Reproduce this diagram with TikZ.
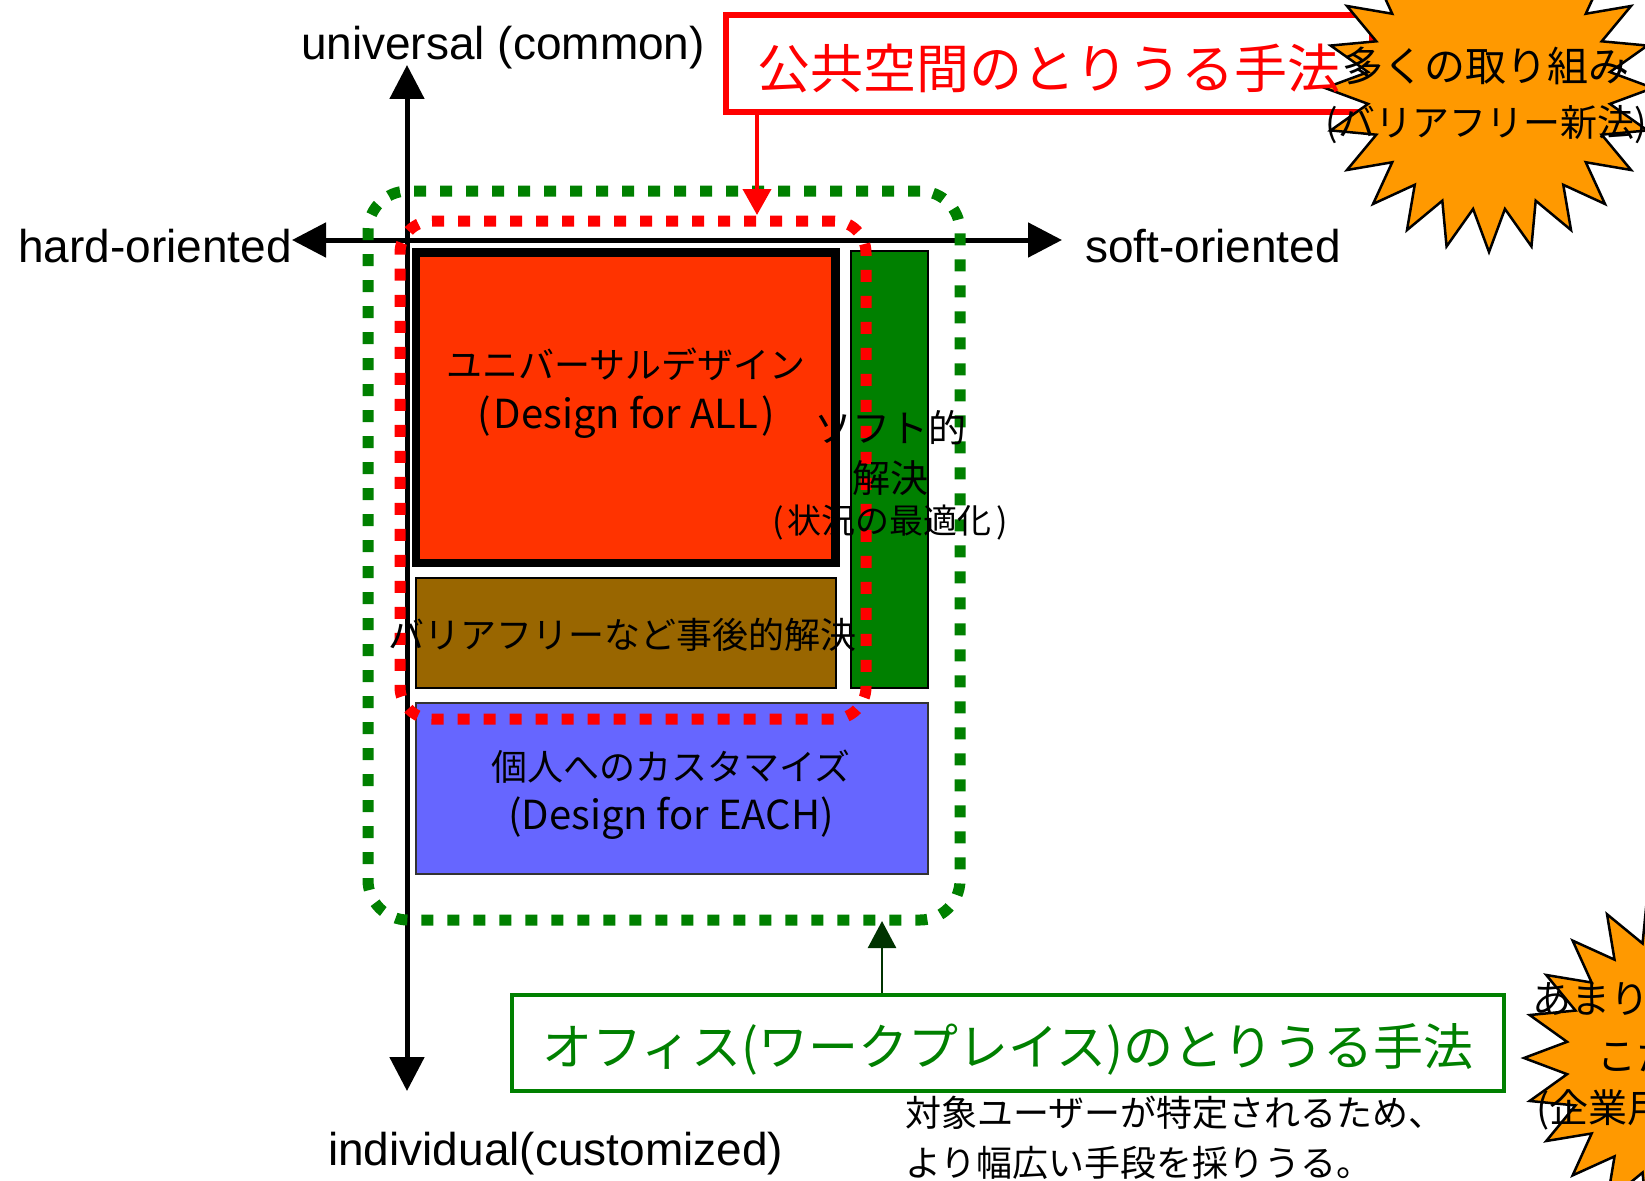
\documentclass[tikz,border=0pt]{standalone}
\usepackage{fontspec}
\setmainfont{Liberation Sans}
\newfontfamily\jp{Noto Sans CJK JP}
\usetikzlibrary{arrows.meta}
\definecolor{boxred}{HTML}{FF3300}
\definecolor{boxbrown}{HTML}{996600}
\definecolor{boxgreen}{HTML}{008000}
\definecolor{boxblue}{HTML}{6666FF}
\definecolor{starorange}{HTML}{FF9900}
\definecolor{arrowgreen}{HTML}{003300}
\definecolor{titlered}{HTML}{FF0000}
\begin{document}
\begin{tikzpicture}[x=1pt,y=-1pt,
  axisline/.style={line width=5pt, arrows={Triangle[length=34pt,width=34pt]-Triangle[length=34pt,width=34pt]}},
  axislabel/.style={font=\fontsize{46}{55}\selectfont, inner sep=0pt},
  jptext/.style={font=\jp\fontsize{36}{50}\selectfont, align=center, inner sep=0pt},
  dotgreen/.style={draw=boxgreen, line width=11pt, dash pattern=on 12pt off 14pt, rounded corners=40pt, inner sep=0pt},
  dotred/.style={draw=titlered, line width=11pt, dash pattern=on 12pt off 14pt, rounded corners=32pt, inner sep=0pt},
  titlebox/.style={draw=titlered, line width=6pt, inner sep=0pt},
  titletext/.style={font=\jp\fontsize{53}{60}\selectfont, text=titlered, inner sep=0pt},
  labelbox/.style={draw=boxgreen, line width=4pt, inner sep=0pt, font=\jp\fontsize{50}{60}\selectfont, text=boxgreen},
  starshape/.style={fill=starorange, draw=black, line width=2.5pt, line join=miter},
  startext/.style={font=\jp\fontsize{41}{55}\selectfont, align=center, inner sep=0pt},
  startext2/.style={font=\jp\fontsize{39}{50}\selectfont, inner sep=0pt, anchor=west},
  redarrow/.style={draw=titlered, line width=4pt, arrows={-Triangle[length=26pt,width=28pt]}},
  greenarrow/.style={draw=arrowgreen, line width=2.5pt, arrows={-Triangle[length=27pt,width=28pt]}}
]
\useasboundingbox (0,0) rectangle (1645,1180);
\fill[white] (0,0) rectangle (1645,1180);

% axes
\coordinate (ytop) at (407,65);
\coordinate (ybot) at (407,1091);
\coordinate (xleft) at (292,240);
\coordinate (xright) at (1062,240);
\draw[axisline] (ytop) -- (ybot);
\draw[axisline] (xleft) -- (xright);

\node[axislabel, anchor=base] (univ) at (503,60) {universal (common)};
\node[axislabel, anchor=base east] (hard) at (292,262) {hard-oriented};
\node[axislabel, anchor=base west] (soft) at (1085,262) {soft-oriented};
\node[axislabel, anchor=base west] (indiv) at (328,1165) {individual(customized)};

% boxes
\draw[fill=boxred, draw=black, line width=8.5pt] (416,252.5) rectangle (835.5,563);
\draw[fill=boxbrown, draw=black, line width=2.5pt] (416,578) rectangle (836,688);
\draw[fill=boxgreen, draw=black, line width=2.5pt] (851,251) rectangle (928,688);
\draw[fill=boxblue, draw=black!80, line width=2pt] (416,703) rectangle (928,874);

% dotted groupings
\node[dotgreen, minimum width=592pt, minimum height=729pt] (gdot) at (664,555.5) {};
\node[dotred, minimum width=466pt, minimum height=498pt] (rdot) at (633,470) {};

% texts in boxes
\node[jptext] (utext) at (626,393) {ユニバーサルデザイン\\{\fontsize{40}{50}\selectfont(\hspace{3pt}Design for ALL\hspace{3pt})}};
\node[jptext] (btext) at (622,635) {バリアフリーなど事後的解決};
\node[jptext, font=\jp\fontsize{38}{50}\selectfont] (stext) at (890,453) {ソフト的\\解決};
\node[jptext, font=\jp\fontsize{34}{40}\selectfont] (stext2) at (890,523) {(\hspace{4pt}状況の最適化\hspace{4pt})};
\node[jptext, font=\jp\fontsize{36}{49}\selectfont] (etext) at (671,795) {個人へのカスタマイズ\\{\fontsize{40}{49}\selectfont(Design for EACH)}};

% title box and arrow
\node[titlebox, minimum width=646pt, minimum height=97pt] (title) at (1049,63.5) {};
\coordinate (rtip) at (757,215);
\draw[redarrow] (title.south -| rtip) -- (rtip);

% top star
\filldraw[starshape] plot[variable=\k, samples at={0,1,...,47}]
  ({1489+(164-42*mod(\k,2))*cos(90+7.5*\k)}, {88-(164-42*mod(\k,2))*sin(90+7.5*\k)}) -- cycle;
\node[titletext] (titletxt) at (1049,68) {公共空間のとりうる手法};
\node[startext] (star1txt) at (1486,95) {多くの取り組み\\{\fontsize{37}{55}\selectfont(バリアフリー新法)}};

% office label and arrow
\node[labelbox, minimum width=992pt, minimum height=96pt] (office) at (1008,1043) {};
\node[labelbox, draw=none] (officetxt) at (1008,1049) {オフィス(ワークプレイス)のとりうる手法};
\coordinate (gtip) at (882,921);
\draw[greenarrow] (office.north -| gtip) -- (gtip);

\node[jptext, align=left, anchor=west] (note) at (905,1138) {対象ユーザーが特定されるため、\\より幅広い手段を採りうる。};

% bottom star
\filldraw[starshape] plot[variable=\k, samples at={0,1,...,47}]
  ({1690+(166-42*mod(\k,2))*cos(90+7.5*\k)}, {1058-(166-42*mod(\k,2))*sin(90+7.5*\k)}) -- cycle;
\node[startext2] (s2a) at (1532,999) {あまり};
\node[startext2] (s2b) at (1597,1056) {こた};
\node[startext2] (s2c) at (1536,1110) {(企業用};
\end{tikzpicture}
\end{document}
